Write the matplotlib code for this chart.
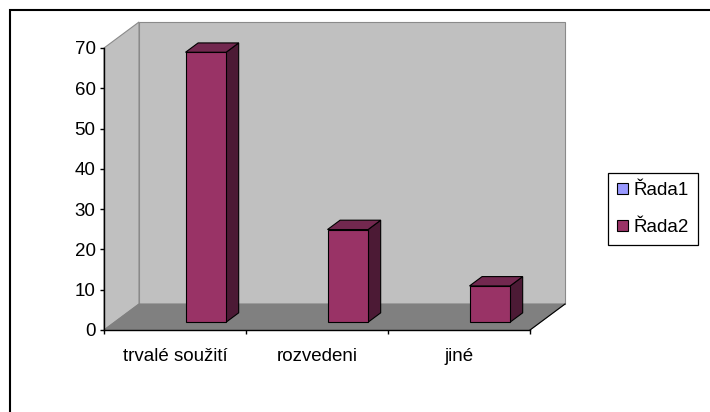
import matplotlib
matplotlib.use("Agg")
import matplotlib.pyplot as plt
from matplotlib.patches import Polygon, Patch, Rectangle

plt.rcParams['font.family'] = ['Liberation Sans', 'DejaVu Sans']

# data
categories = ["trvalé soužití", "rozvedeni", "jiné"]
series_names = ["Řada1", "Řada2"]
rada2_values = [67, 23, 9]
y_ticks = [0, 10, 20, 30, 40, 50, 60, 70]

# colours (Excel 97 defaults)
WALL = "#C0C0C0"
FLOOR = "#808080"
EDGE = "#8A8A8A"
S1_COLOR = "#9999FF"
FRONT = "#993366"
TOP = "#72284F"
SIDE = "#4C1A35"
FS = 13.5

fig = plt.figure(figsize=(7.1, 4.12), dpi=100)
W, H = 710, 412
# front plane of the 3d box, pixels: x 104..530, y 330..48
ax = fig.add_axes([104 / W, (H - 330) / H, 426 / W, 282 / H])
ax.set_xlim(0, len(categories))
ax.set_ylim(0, 70)

# depth offset of the back wall, in data units
DX = 35 / (426 / 3)
DY = 26 / (282 / 70)
ymax = 70

def poly(pts, fc, ec, lw=0.8, z=1):
    p = Polygon(pts, closed=True, facecolor=fc, edgecolor=ec, linewidth=lw,
                zorder=z, clip_on=False, joinstyle="miter")
    ax.add_patch(p)

n = len(categories)
# walls and floor
poly([(DX, DY), (n + DX, DY), (n + DX, ymax + DY), (DX, ymax + DY)], WALL, EDGE, z=1)
poly([(0, 0), (DX, DY), (DX, ymax + DY), (0, ymax)], WALL, EDGE, z=1)
poly([(0, 0), (n, 0), (n + DX, DY), (DX, DY)], FLOOR, FLOOR, z=2)
ax.plot([n, n + DX], [0, DY], color="black", lw=0.8, zorder=3, clip_on=False)

# bars of series 2 (series 1 is empty), clustered with gap width 150%
w = 1 / 3.5
f0, f1 = 0.30, 0.66
for i, v in enumerate(rada2_values):
    x0 = i + 1.75 * w
    x1 = x0 + w
    ax0, ay0 = f0 * DX, f0 * DY
    bx1, by1 = f1 * DX, f1 * DY
    poly([(x1 + ax0, ay0), (x1 + bx1, by1), (x1 + bx1, v + by1), (x1 + ax0, v + ay0)],
         SIDE, "black", z=4)
    poly([(x0 + ax0, v + ay0), (x1 + ax0, v + ay0), (x1 + bx1, v + by1), (x0 + bx1, v + by1)],
         TOP, "black", z=4)
    poly([(x0 + ax0, ay0), (x1 + ax0, ay0), (x1 + ax0, v + ay0), (x0 + ax0, v + ay0)],
         FRONT, "black", z=5)

# axes
for s in ["top", "right"]:
    ax.spines[s].set_visible(False)
for s in ["left", "bottom"]:
    ax.spines[s].set_color("black")
    ax.spines[s].set_linewidth(1.0)
    ax.spines[s].set_zorder(6)
ax.set_facecolor("none")
ax.set_yticks(y_ticks)
ax.tick_params(axis="y", direction="out", length=3, width=1, pad=3, labelsize=FS)
ax.set_xticks(range(n + 1))
ax.set_xticklabels([])
ax.tick_params(axis="x", which="major", direction="out", length=3, width=1)
ax.set_xticks([i + 0.5 for i in range(n)], minor=True)
ax.set_xticklabels(categories, minor=True)
ax.tick_params(axis="x", which="minor", length=0, pad=13, labelsize=FS)

# legend
handles = [Patch(facecolor=S1_COLOR, edgecolor="black", linewidth=0.8),
           Patch(facecolor=FRONT, edgecolor="black", linewidth=0.8)]
leg = fig.legend(handles, series_names, loc="upper left",
                 bbox_to_anchor=(608 / W, 1 - 173 / H), borderaxespad=0,
                 fontsize=FS, frameon=True, fancybox=False, framealpha=1,
                 handlelength=0.55, handleheight=0.55, handletextpad=0.3,
                 labelspacing=1.05, borderpad=0.5)
leg.get_frame().set_edgecolor("black")
leg.get_frame().set_linewidth(0.9)

# chart border (cropped at right and bottom)
fig.add_artist(Rectangle((10 / W, -0.1), 1.2, 1.1 - 10 / H, transform=fig.transFigure,
                         fill=False, edgecolor="black", linewidth=1.5))

fig.savefig("out.png", dpi=100)
